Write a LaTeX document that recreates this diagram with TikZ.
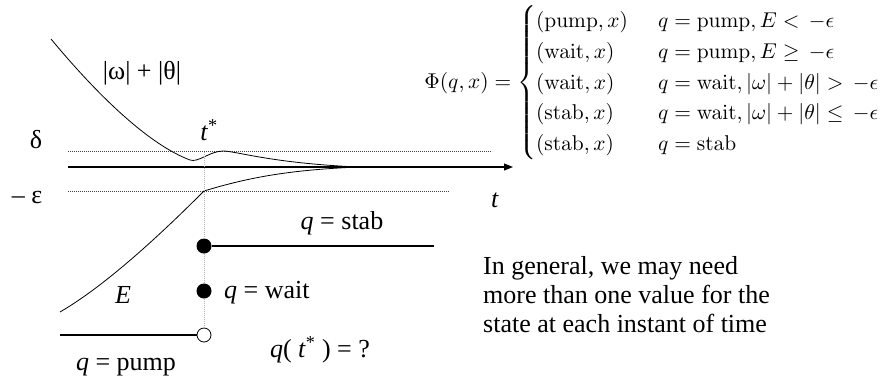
\documentclass[tikz,border=0pt]{standalone}
\usepackage{amsmath}
\usepackage[no-math]{fontspec}
\setmainfont{Liberation Serif}
\usetikzlibrary{arrows.meta}
\tikzset{
  lbl/.style={inner sep=0pt, font=\fontsize{26}{29}\selectfont},
  curve/.style={line width=0.8pt},
  level/.style={line width=0.7pt, black!75, dash pattern=on 0.7pt off 1.3pt},
  tline/.style={line width=1pt, gray!60, dash pattern=on 1pt off 1pt},
  qline/.style={line width=1.1pt},
  dot/.style={circle, fill, inner sep=0pt, minimum size=15pt},
  hole/.style={circle, draw, fill=white, inner sep=0pt, minimum size=14pt, line width=0.8pt}
}

\begin{document}
\begin{tikzpicture}[x=1pt, y=-1pt]
\useasboundingbox (0,0) rectangle (883,381);
\def\xl{68}
\def\ts{204}
\coordinate (O) at (\xl,167);
\coordinate (T) at (513,167);
\coordinate (D1) at (\xl,151);
\coordinate (D2) at (492,151);
\coordinate (E1) at (\xl,191);
\coordinate (E2) at (449,191);
\coordinate (Top) at (\ts,152);
\coordinate (Meet) at (358,167);
\coordinate (Cut) at (\ts,191);
\coordinate (StabEnd) at (434,246);
\coordinate (PumpStart) at (60,335);

\draw[level] (D1) -- (D2);
\draw[level] (E1) -- (E2);
\draw[line width=1.1pt, -{Triangle[length=9pt, width=7pt]}] (O) -- (T);

\draw[curve] (51,39) .. controls (100,98) and (150,145) .. (190,160)
  .. controls (198,163) and (210,151) .. (223,151)
  .. controls (236,151) and (270,163) .. (Meet);
\draw[curve] (60,312) .. controls (110,283) and (170,225) .. (Cut)
  .. controls (250,177) and (290,170) .. (Meet);

\node[dot] (stab) at (\ts,246) {};
\node[dot] (wait) at (\ts,291) {};
\node[hole] (pump) at (\ts,335) {};
\draw[tline] (Top) -- (stab) -- (wait) -- (pump);
\draw[qline] (stab) -- (StabEnd);
\draw[qline] (PumpStart) -- (pump);

\node[lbl] (delta) at (36,140) {δ};
\node[lbl] (eps) at (27,197) {– ε};
\node[lbl] (tstar) at (209,130) {\textit{t}\textsuperscript{*}};
\node[lbl] (tlab) at (495,200) {\textit{t}};
\node[lbl] (norm) at (142,73) {|ω| + |θ|};
\node[lbl] (Elab) at (123,295) {\textit{E}};
\node[lbl] (stablab) at (342,223) {\textit{q} = stab};
\node[lbl, anchor=west] (waitlab) at (224,293) {\textit{q} = wait};
\node[lbl] (pumplab) at (126,367) {\textit{q} = pump};
\node[lbl] (qlab) at (320,350) {\textit{q}( \textit{t}\textsuperscript{*} ) = ?};
\node[lbl, anchor=north west, align=left] (note) at (483,256)
  {In general, we may need\\more than one value for the\\state at each instant of time};

\node[inner sep=0pt, scale=2.14, anchor=west] (phi) at (424,83)
  {$\Phi(q,x) = \begin{cases}
    (\mathrm{pump},x) & \hspace{4pt}q=\mathrm{pump}, E < \,-\epsilon\\
    (\mathrm{wait},x) & \hspace{4pt}q=\mathrm{pump}, E \geq \,-\epsilon\\
    (\mathrm{wait},x) & \hspace{4pt}q=\mathrm{wait}, |\omega|+|\theta| > \,-\epsilon\\
    (\mathrm{stab},x) & \hspace{4pt}q=\mathrm{wait}, |\omega|+|\theta| \leq \,-\epsilon\\
    (\mathrm{stab},x) & \hspace{4pt}q=\mathrm{stab}
  \end{cases}$};
\end{tikzpicture}
\end{document}
